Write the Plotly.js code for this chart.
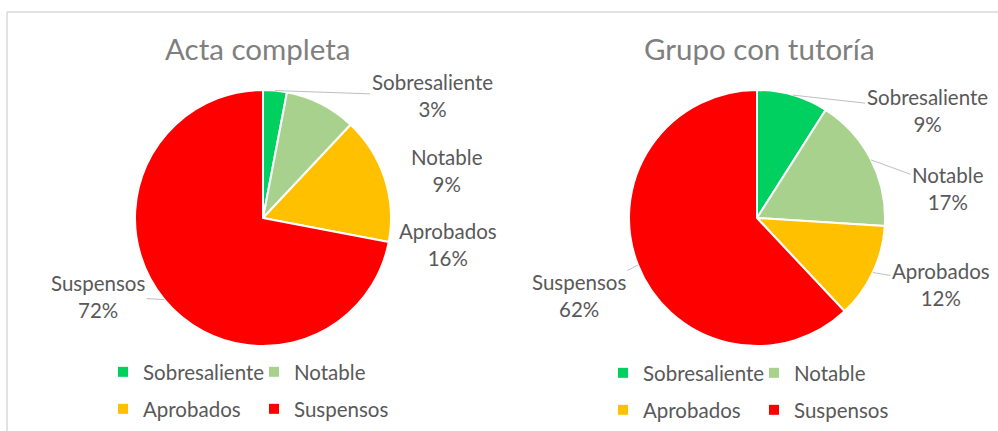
<!DOCTYPE html>
<html><head><meta charset="utf-8">
<script src="https://cdn.plot.ly/plotly-3.0.1.min.js"></script>
<style>html,body{margin:0;padding:0;background:#fff}#chart{width:998px;height:431px}</style>
</head><body><div id="chart"></div>
<script>
// ---- data ----
const categories = ['Sobresaliente', 'Notable', 'Aprobados', 'Suspensos'];
const actaValues = [3, 9, 16, 72];
const tutoriaValues = [9, 17, 12, 62];
const chartTitles = ['Acta completa', 'Grupo con tutoría'];
const sliceColors = ['#00D060', '#A9D18E', '#FFC000', '#FF0000'];

// ---- layout helpers ----
const W = 998, H = 431;
const px = x => x / W, py = y => 1 - y / H;
const FONT = 'Lato, "Open Sans", sans-serif';
const R = 128;
const pies = [
  {values: actaValues, title: chartTitles[0], cx: 263, cy: 218, titleX: 257,
   labelPos: [[432, 96, true], [447, 170, false], [448, 244, false], [98, 296, true]],
   legendX: 103, legends: ['legend', 'legend2']},
  {values: tutoriaValues, title: chartTitles[1], cx: 757, cy: 218, titleX: 759,
   labelPos: [[927, 110, true], [948, 188, true], [941, 284, true], [579, 295, true]],
   legendX: 603, legends: ['legend3', 'legend4']}
];

const data = [];
const annotations = [];
pies.forEach(p => {
  data.push({
    type: 'pie', labels: categories, values: p.values, sort: false,
    direction: 'clockwise', rotation: 0, textinfo: 'none', showlegend: false,
    marker: {colors: sliceColors, line: {color: '#FFFFFF', width: 2}},
    domain: {x: [px(p.cx - R), px(p.cx + R)], y: [py(p.cy + R), py(p.cy - R)]},
    hoverinfo: 'label+percent'
  });
  const total = p.values.reduce((a, b) => a + b, 0);
  let cum = 0;
  p.values.forEach((v, i) => {
    const mid = (cum + v / 2) / total; cum += v;
    const a = mid * 2 * Math.PI;
    const ex = p.cx + R * Math.sin(a), ey = p.cy - R * Math.cos(a);
    const [lx, ly, arrow] = p.labelPos[i];
    const text = categories[i] + '<br>' + Math.round(v / total * 100) + '%';
    const base = {text, font: {family: FONT, size: 20.5, color: '#595959'}, align: 'center'};
    if (arrow) {
      annotations.push(Object.assign(base, {x: px(ex), y: py(ey), xref: 'paper', yref: 'paper',
        showarrow: true, arrowhead: 0, arrowwidth: 1, arrowcolor: '#BFBFBF', standoff: 0,
        ax: lx - ex, ay: ly - ey}));
    } else {
      annotations.push(Object.assign(base, {x: px(lx), y: py(ly), xref: 'paper', yref: 'paper',
        showarrow: false, xanchor: 'center', yanchor: 'middle'}));
    }
  });
  annotations.push({text: p.title, x: px(p.titleX), y: py(48), xref: 'paper', yref: 'paper',
    showarrow: false, xanchor: 'center', yanchor: 'middle',
    font: {family: FONT, size: 29.5, color: '#7F7F7F'}});
  categories.forEach((c, i) => {
    data.push({type: 'scatter', x: [null], y: [null], mode: 'markers', name: c,
      marker: {symbol: 'square', size: 10, color: sliceColors[i]},
      legend: p.legends[i < 2 ? 0 : 1], hoverinfo: 'skip'});
  });
});

const legendBase = (x, y) => ({orientation: 'h', x: px(x), xanchor: 'left', y: py(y), yanchor: 'middle',
  font: {family: FONT, size: 20.5, color: '#595959'}, bgcolor: 'rgba(0,0,0,0)',
  entrywidth: 106});

const layout = {
  width: W, height: H, margin: {l: 0, r: 0, t: 0, b: 0},
  paper_bgcolor: '#FFFFFF', plot_bgcolor: '#FFFFFF',
  xaxis: {visible: false}, yaxis: {visible: false},
  showlegend: true,
  legend: legendBase(pies[0].legendX, 372),
  legend2: legendBase(pies[0].legendX, 409),
  legend3: legendBase(pies[1].legendX, 373),
  legend4: legendBase(pies[1].legendX, 410),
  annotations,
  shapes: [
    {type: 'line', xref: 'paper', yref: 'paper', x0: px(7), x1: 1, y0: py(12), y1: py(12), line: {color: '#D9D9D9', width: 1.5}},
    {type: 'line', xref: 'paper', yref: 'paper', x0: px(7), x1: px(7), y0: py(12), y1: 0, line: {color: '#D9D9D9', width: 1.5}}
  ]
};
Plotly.newPlot('chart', data, layout, {displayModeBar: false});
</script></body></html>
